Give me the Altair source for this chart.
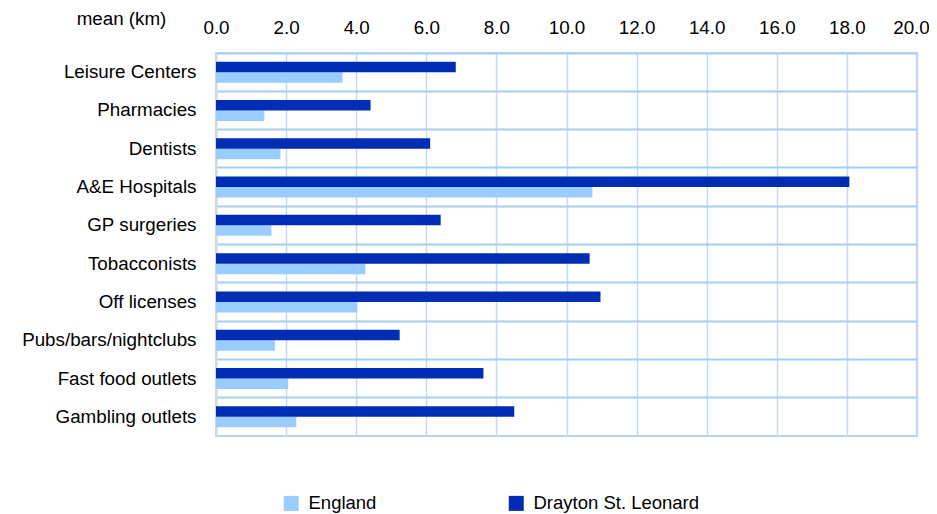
import altair as alt
import pandas as pd

categories = ["Leisure Centers", "Pharmacies", "Dentists", "A&E Hospitals", "GP surgeries",
              "Tobacconists", "Off licenses", "Pubs/bars/nightclubs", "Fast food outlets",
              "Gambling outlets"]
england = [3.61, 1.38, 1.84, 10.74, 1.58, 4.26, 4.03, 1.68, 2.06, 2.29]
drayton = [6.84, 4.41, 6.11, 18.07, 6.41, 10.66, 10.97, 5.24, 7.63, 8.51]
series = ["England", "Drayton St. Leonard"]
colors = ["#99ccff", "#002db3"]

rows = []
for c, e, d in zip(categories, england, drayton):
    rows.append({"category": c, "series": "England", "value": e})
    rows.append({"category": c, "series": "Drayton St. Leonard", "value": d})
df = pd.DataFrame(rows)

FONT = "Liberation Sans"
FS = 18.8

chart = alt.Chart(df).mark_bar().encode(
    y=alt.Y("category:N", sort=categories,
            scale=alt.Scale(paddingInner=0, paddingOuter=0),
            axis=alt.Axis(title=None, ticks=False, labelPadding=20, labelFontSize=FS,
                          labelFont=FONT, labelColor="#000000",
                          domainColor="#d9d9d9", domainWidth=2,
                          grid=True, bandPosition=0, gridColor="#a6cef5", gridWidth=2)),
    yOffset=alt.YOffset("series:N", sort=["Drayton St. Leonard", "England"],
                        scale=alt.Scale(paddingInner=0, paddingOuter=0.82)),
    x=alt.X("value:Q", scale=alt.Scale(domain=[0, 20], nice=False),
            axis=alt.Axis(orient="top", values=list(range(0, 21, 2)), format=".1f",
                          ticks=False, domain=False, labelFontSize=FS, labelFont=FONT,
                          labelColor="#000000", labelPadding=16, labelFlush=False,
                          labelOverlap=False,
                          labelOffset={"condition": {"test": "datum.value >= 20", "value": -6},
                                       "value": 0},
                          gridColor="#c5daf2", gridWidth=1.5,
                          title="mean (km)", titleFont=FONT, titleFontSize=FS,
                          titleFontWeight="normal", titleColor="#000000",
                          titleAlign="center", titleBaseline="middle",
                          titleX=-95, titleY=-35, titleAngle=0)),
    color=alt.Color("series:N", scale=alt.Scale(domain=series, range=colors),
                    legend=alt.Legend(title=None, orient="none", direction="horizontal",
                                      legendX=66, legendY=441, symbolType="square",
                                      symbolSize=225, symbolStrokeWidth=0,
                                      labelFontSize=18.5, labelFont=FONT,
                                      labelColor="#000000", columnPadding=130,
                                      labelOffset=8, labelLimit=400)),
).properties(
    width=701, height=383,
    autosize=alt.AutoSizeParams(type="none"),
    padding={"left": 208, "top": 45, "right": 12, "bottom": 90},
).configure_view(
    stroke="#b8d4f0", strokeWidth=2
)

chart.save("out.html", embed_options={"renderer": "svg", "actions": False})
